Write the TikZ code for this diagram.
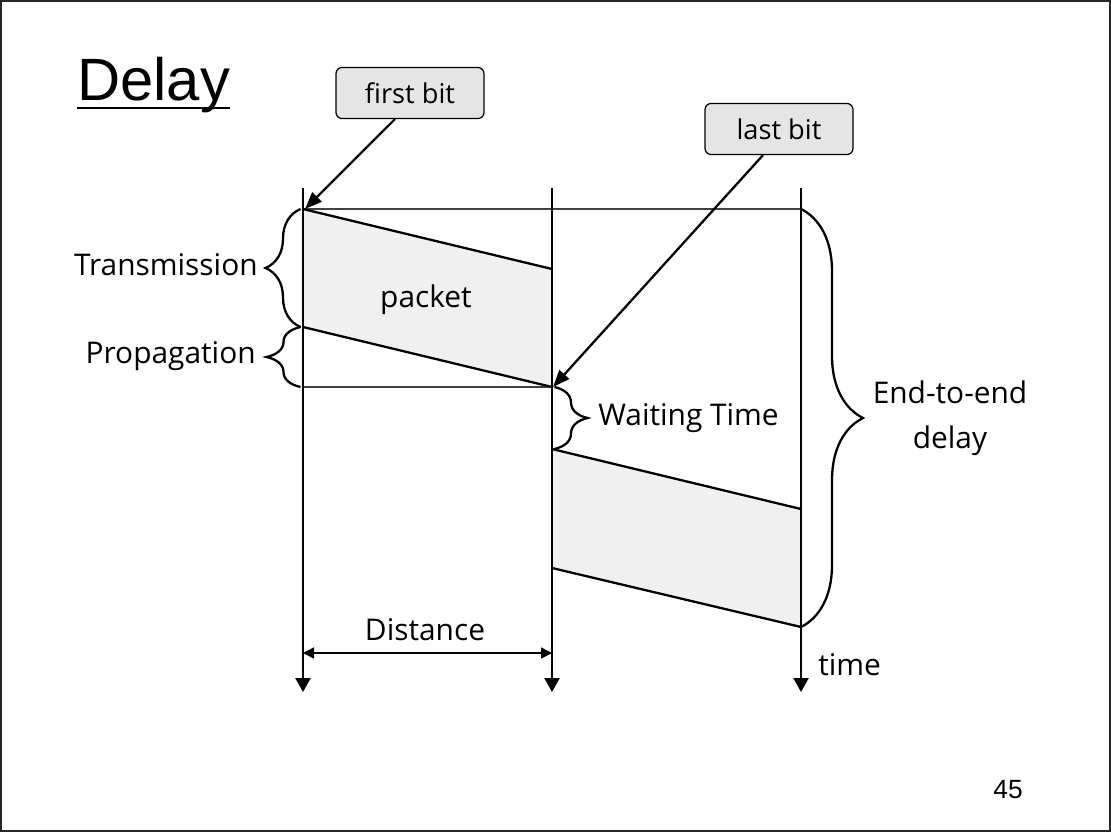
\documentclass[tikz,border=0pt]{standalone}
\usepackage{fontspec}
\setmainfont{Open Sans}
\newfontfamily\titlefont{Liberation Sans}
\usetikzlibrary{arrows.meta,decorations.pathreplacing}

\begin{document}
\begin{tikzpicture}[x=0.02cm,y=-0.02cm,
		>={Triangle[length=0.28cm,width=0.3cm]},
		axis/.style={line width=1.4pt,->},
		edgeline/.style={line width=1.3pt},
		guide/.style={line width=0.8pt,black!75},
		pointer/.style={line width=1.3pt,-{Triangle[length=0.34cm,width=0.26cm]}},
		callout/.style={draw,line width=0.7pt,rounded corners=0.12cm,fill=gray!20,minimum width=2.96cm,minimum height=1.02cm,font=\fontsize{15.5}{18}\selectfont},
		lbl/.style={font=\fontsize{17}{25.6}\selectfont,inner sep=0pt},
		curly/.style={decorate,decoration={brace,amplitude=#1},line width=1.3pt}]
			\useasboundingbox (0,0) rectangle (1111,832);
			\draw[line width=1pt,black!85] (1,1) rectangle (1110,831);
			
			\node (title) at (77,100) [anchor=base west,inner sep=0pt,font=\titlefont\fontsize{34}{40}\selectfont] {Delay};
			\draw[line width=1.6pt] ([yshift=-0.16cm]title.base west) -- ([yshift=-0.16cm]title.base east);
			
			\coordinate (s0) at (303,188);
			\coordinate (s1) at (303,692);
			\coordinate (r0) at (552,188);
			\coordinate (r1) at (552,692);
			\coordinate (d0) at (801,188);
			\coordinate (d1) at (801,692);
			
			\coordinate (pa) at (303,209);
			\coordinate (pb) at (552,269);
			\coordinate (pc) at (552,387);
			\coordinate (pd) at (303,327);
			\coordinate (qa) at (552,449);
			\coordinate (qb) at (801,509);
			\coordinate (qc) at (801,627);
			\coordinate (qd) at (552,568);
			\coordinate (top) at (801,209);
			\coordinate (prop) at (303,387);
			
			\fill[gray!12] (pa) -- (pb) -- (pc) -- (pd) -- cycle;
			\fill[gray!12] (qa) -- (qb) -- (qc) -- (qd) -- cycle;
			\draw[guide] (pa) -- (top);
			\draw[guide] (prop) -- (pc);
			
			\draw[axis] (s0) -- (s1);
			\draw[axis] (r0) -- (r1);
			\draw[axis] (d0) -- (d1);
			
			\draw[edgeline] (pa) -- (pb);
			\draw[edgeline] (pd) -- (pc);
			\draw[edgeline] (qa) -- (qb);
			\draw[edgeline] (qd) -- (qc);
			
			\node (pkt) at (426,300) [lbl] {packet};
			
			\draw[curly=0.7cm] ([xshift=-0.05cm]pd) -- ([xshift=-0.05cm]pa);
			\draw[curly=0.68cm] ([xshift=-0.05cm]prop) -- ([xshift=-0.05cm]pd);
			\draw[curly=0.66cm] ([xshift=0.05cm]pc) -- ([xshift=0.05cm]qa);
			\draw[curly=1.24cm] (top) -- (qc);
			
			\node (trans) at (258,265) [lbl,anchor=east] {Transmission};
			\node (propl) at (256,356) [lbl,anchor=east] {Propagation};
			\node (wait) at (598,418) [lbl,anchor=west] {Waiting Time};
			\node (e2e) at (950,418) [lbl,align=center] {End-to-end\\delay};
			
			\coordinate (dl) at (303,653);
			\coordinate (dr) at (552,653);
			\draw[line width=0.9pt,{Triangle[length=0.22cm,width=0.22cm]}-{Triangle[length=0.22cm,width=0.22cm]}] (dl) -- (dr);
			\node (dist) at (425,630) [lbl] {Distance};
			\node (time) at (818,665) [lbl,anchor=west] {time};
			
			\node (fb) at (410,93) [callout] {first bit};
			\node (lb) at (779,129) [callout] {last bit};
			\draw[pointer] ([xshift=-0.3cm]fb.south) -- ([xshift=0.04cm]pa);
			\draw[pointer] ([xshift=-0.32cm]lb.south) -- ([xshift=0.02cm]pc);
			
			\node (num) at (1008,790) [font=\titlefont\fontsize{15}{18}\selectfont] {45};
\end{tikzpicture}
\end{document}
